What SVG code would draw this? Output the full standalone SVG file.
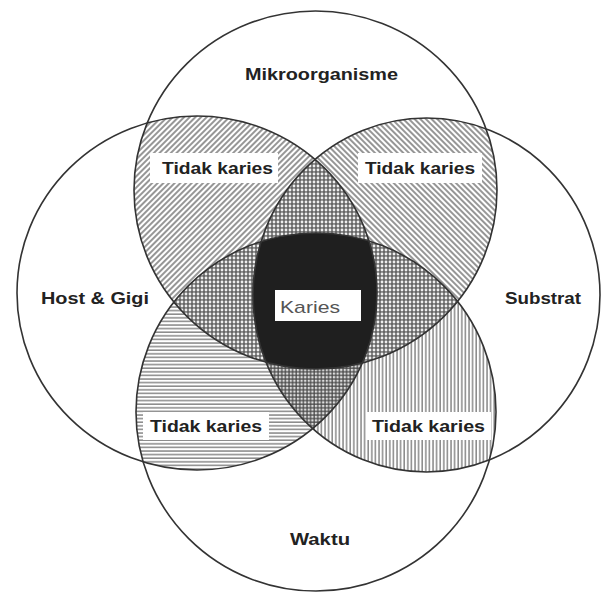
<svg xmlns="http://www.w3.org/2000/svg" width="607" height="597" viewBox="0 0 607 597">
<style>
.outline{fill:none;stroke:#333;stroke-width:1.6}
.lbl{font-family:"Liberation Sans",Arial,sans-serif;font-weight:bold;font-size:16px;fill:#222}
.band{fill:#fff}
</style>
<defs>
<clipPath id="cT"><ellipse cx="315.5" cy="190" rx="181.5" ry="179"/></clipPath>
<clipPath id="cL"><ellipse cx="197" cy="293" rx="180" ry="177"/></clipPath>
<clipPath id="cR"><ellipse cx="426.5" cy="295" rx="173.5" ry="177"/></clipPath>
<clipPath id="cB"><ellipse cx="316" cy="412" rx="180" ry="179"/></clipPath>
<pattern id="pUp" width="4" height="4" patternUnits="userSpaceOnUse" patternTransform="rotate(45)"><rect width="4" height="4" fill="#fff"/><line x1="1" y1="0" x2="1" y2="4" stroke="#6a6a6a" stroke-width="1.4"/></pattern>
<pattern id="pDown" width="4" height="4" patternUnits="userSpaceOnUse" patternTransform="rotate(-45)"><rect width="4" height="4" fill="#fff"/><line x1="1" y1="0" x2="1" y2="4" stroke="#6a6a6a" stroke-width="1.4"/></pattern>
<pattern id="pHor" width="4" height="3.6" patternUnits="userSpaceOnUse"><rect width="4" height="3.6" fill="#fff"/><line x1="0" y1="1" x2="4" y2="1" stroke="#6a6a6a" stroke-width="1.2"/></pattern>
<pattern id="pVer" width="3.6" height="4" patternUnits="userSpaceOnUse"><rect width="3.6" height="4" fill="#fff"/><line x1="1" y1="0" x2="1" y2="4" stroke="#6a6a6a" stroke-width="1.2"/></pattern>
<pattern id="pDot" width="4" height="4" patternUnits="userSpaceOnUse"><rect width="4" height="4" fill="#666"/><circle cx="2" cy="2" r="1.4" fill="#eee"/></pattern>
<pattern id="pGrid" width="3.6" height="3.6" patternUnits="userSpaceOnUse"><rect width="3.6" height="3.6" fill="#ddd"/><line x1="0" y1="1" x2="3.6" y2="1" stroke="#444" stroke-width="1.2"/><line x1="1" y1="0" x2="1" y2="3.6" stroke="#444" stroke-width="1.2"/></pattern>
</defs>
<rect width="607" height="597" fill="#fff"/>
<g id="regions">
  <g clip-path="url(#cT)"><rect width="607" height="597" fill="url(#pUp)" clip-path="url(#cL)"/></g>
  <g clip-path="url(#cT)"><rect width="607" height="597" fill="url(#pDown)" clip-path="url(#cR)"/></g>
  <g clip-path="url(#cL)"><rect width="607" height="597" fill="url(#pHor)" clip-path="url(#cB)"/></g>
  <g clip-path="url(#cR)"><rect width="607" height="597" fill="url(#pVer)" clip-path="url(#cB)"/></g>
  <g clip-path="url(#cT)"><g clip-path="url(#cL)"><rect width="607" height="597" fill="url(#pDot)" clip-path="url(#cR)"/></g></g>
  <g clip-path="url(#cT)"><g clip-path="url(#cL)"><rect width="607" height="597" fill="url(#pDot)" clip-path="url(#cB)"/></g></g>
  <g clip-path="url(#cT)"><g clip-path="url(#cR)"><rect width="607" height="597" fill="url(#pDot)" clip-path="url(#cB)"/></g></g>
  <g clip-path="url(#cL)"><g clip-path="url(#cR)"><rect width="607" height="597" fill="url(#pGrid)" clip-path="url(#cB)"/></g></g>
  <g clip-path="url(#cT)"><g clip-path="url(#cL)"><g clip-path="url(#cR)"><rect width="607" height="597" fill="#1f1f1f" clip-path="url(#cB)"/></g></g></g>
</g>
<g id="mikroorganisme">
  <ellipse class="outline" cx="315.5" cy="190" rx="181.5" ry="179"/>
  <text class="lbl" x="245" y="80" textLength="153" lengthAdjust="spacingAndGlyphs">Mikroorganisme</text>
</g>
<g id="host-gigi">
  <ellipse class="outline" cx="197" cy="293" rx="180" ry="177"/>
  <text class="lbl" x="41" y="304" textLength="108" lengthAdjust="spacingAndGlyphs">Host &amp; Gigi</text>
</g>
<g id="substrat">
  <ellipse class="outline" cx="426.5" cy="295" rx="173.5" ry="177"/>
  <text class="lbl" x="505" y="304" textLength="76" lengthAdjust="spacingAndGlyphs">Substrat</text>
</g>
<g id="waktu">
  <ellipse class="outline" cx="316" cy="412" rx="180" ry="179"/>
  <text class="lbl" x="290" y="545" textLength="60" lengthAdjust="spacingAndGlyphs">Waktu</text>
</g>
<g id="tidak-karies-tl">
  <rect class="band" x="150" y="153" width="128" height="30"/>
  <text class="lbl" x="162" y="174" textLength="111" lengthAdjust="spacingAndGlyphs">Tidak karies</text>
</g>
<g id="tidak-karies-tr">
  <rect class="band" x="358" y="153" width="124" height="30"/>
  <text class="lbl" x="365" y="174" textLength="110" lengthAdjust="spacingAndGlyphs">Tidak karies</text>
</g>
<g id="tidak-karies-bl">
  <rect class="band" x="143" y="412" width="126" height="28"/>
  <text class="lbl" x="150" y="432" textLength="112" lengthAdjust="spacingAndGlyphs">Tidak karies</text>
</g>
<g id="tidak-karies-br">
  <rect class="band" x="366" y="412" width="125" height="28"/>
  <text class="lbl" x="372" y="432" textLength="113" lengthAdjust="spacingAndGlyphs">Tidak karies</text>
</g>
<g id="karies">
  <rect fill="#fff" x="275" y="290" width="86" height="31"/>
  <text x="280" y="313" font-family="'Liberation Sans', Arial, sans-serif" font-size="17" fill="#555" textLength="60" lengthAdjust="spacingAndGlyphs">Karies</text>
</g>
</svg>
